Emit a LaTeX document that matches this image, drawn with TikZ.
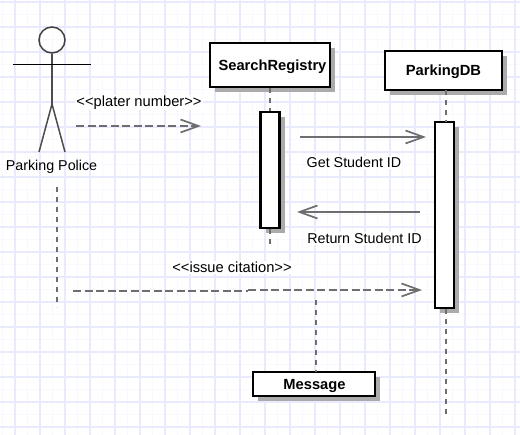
\documentclass[tikz,border=0pt]{standalone}
\usepackage{fontspec}
\setmainfont{Liberation Sans}
\usepackage{xcolor}
\usetikzlibrary{arrows.meta}
\usetikzlibrary{shadows}
\definecolor{rejilla}{HTML}{EAEAFF}
\definecolor{rejillafina}{HTML}{F8F8FF}
\definecolor{linea}{HTML}{6E6E6E}
\definecolor{sombra}{HTML}{ABABAB}

\begin{document}
\begin{tikzpicture}[x=1pt, y=-1pt]
      % Definimos algunos estilos
      \tikzstyle{caja}=[
        draw=black,
        fill=white,
        line width=2.4pt,
        inner sep=0pt,
        text height=11pt,
        text depth=0.5pt,
        font=\bfseries\fontsize{14.7}{16}\selectfont,
        drop shadow={shadow xshift=5pt, shadow yshift=-5pt, fill=sombra, opacity=1}
      ]
      \tikzstyle{barra}=[caja, minimum width=19pt]
      \tikzstyle{texto}=[fill=white, inner sep=1pt, font=\fontsize{14.3}{16}\selectfont]
      \tikzstyle{estereotipo}=[texto, font=\fontsize{14.7}{16}\selectfont]
      % lineas de vida y mensajes
      \tikzstyle{vida}=[draw=linea, line width=2.8pt, dash pattern=on 5pt off 5pt]
      \tikzstyle{mensaje}=[draw=linea, line width=2.8pt, -{Straight Barb[length=18pt, width=13pt, line width=1.7pt]}]
      \tikzstyle{asinc}=[mensaje, dash pattern=on 8pt off 3.5pt]
      \tikzstyle{actor}=[draw=black!70, line width=1.5pt]

      \useasboundingbox (0,0) rectangle (520,435);
      \fill[white] (0,0) rectangle (520,435);

      % rejilla
      \foreach \x in {2.5,27.5,...,502.5} {\draw[rejillafina, line width=1.4pt] (\x,0) -- (\x,435);}
      \foreach \y in {14.5,39.5,...,414.5} {\draw[rejillafina, line width=1.4pt] (0,\y) -- (520,\y);}
      \foreach \x in {15,40,...,515} {\draw[rejilla, line width=1.2pt] (\x,0) -- (\x,435);}
      \foreach \y in {2,27,...,427} {\draw[rejilla, line width=1.2pt] (0,\y) -- (520,\y);}

      % actor
      \node[draw=black!75, line width=1.5pt, circle, minimum size=26pt, inner sep=0pt] (head) at (52,40) {};
      \coordinate (hip) at (52,104);
      \coordinate (armL) at (13,65);
      \coordinate (armR) at (91,65);
      \coordinate (footL) at (39,152);
      \coordinate (footR) at (65,152);
      \draw[actor, line width=2.2pt] (head.south) -- (hip);
      \draw[black, line width=1pt] (armL) -- (armR);
      \draw[actor] (footL) -- (hip) -- (footR);
      \node[texto, fill=none] (police) at (51.5,166.5) {Parking Police};

      % cajas
      \node[caja, minimum width=120pt, minimum height=44pt] (registry) at (270,65) {\kern5pt SearchRegistry};
      \node[caja, minimum width=117pt, minimum height=39pt] (db) at (443.5,70.5) {ParkingDB};
      \node[caja, minimum width=122pt, minimum height=24pt] (message) at (314,384) {\kern1pt Message};

      % barras de activacion
      \node[barra, minimum height=116pt] (registrybar) at (270,170) {};
      \node[barra, minimum height=186pt] (dbbar) at (444.5,215) {};

      % lineas de vida
      \coordinate (policeTop) at (57,187);
      \coordinate (policeEnd) at (57,307);
      \coordinate (registryEnd) at (270,245);
      \coordinate (dbTop) at (446,90);
      \coordinate (dbLow) at (446,122);
      \coordinate (dbBar) at (446,309);
      \coordinate (dbEnd) at (446,417);
      \coordinate (msgTop) at (316,300);
      \coordinate (msgEnd) at (316,372);
      \draw[vida] (policeTop) -- (policeEnd);
      \draw[vida] (registry.south) -- (registrybar.north);
      \draw[vida] (registrybar.south) -- (registryEnd);
      \draw[vida] (dbTop) -- (dbLow);
      \draw[vida] (dbBar) -- (dbEnd);
      \draw[vida] (msgTop) -- (msgEnd);

      % plater number
      \coordinate (plateA) at (76,126);
      \coordinate (plateB) at (201,126);
      \draw[asinc] (plateA) -- (plateB);
      \node[estereotipo] (plate) at (139,102.5) {<{}<plater number>{}>};

      % get student id
      \coordinate (getA) at (300,137);
      \coordinate (getB) at (426,137);
      \draw[mensaje] (getA) -- (getB);
      \node[texto] (get) at (354,162.5) {Get Student ID};

      % return student id
      \coordinate (retA) at (420,212);
      \coordinate (retB) at (297,212);
      \draw[mensaje] (retA) -- (retB);
      \node[texto] (ret) at (364.5,238.5) {Return Student ID};

      % issue citation
      \coordinate (issueA) at (73,291);
      \coordinate (issueM) at (248,291);
      \coordinate (issueN) at (248,290);
      \coordinate (issueB) at (422,290);
      \draw[draw=linea, line width=2.8pt, dash pattern=on 8pt off 3.5pt] (issueA) -- (issueM);
      \draw[asinc] (issueN) -- (issueB);
      \node[estereotipo] (issue) at (232,267.5) {<{}<issue citation>{}>};
\end{tikzpicture}
\end{document}
